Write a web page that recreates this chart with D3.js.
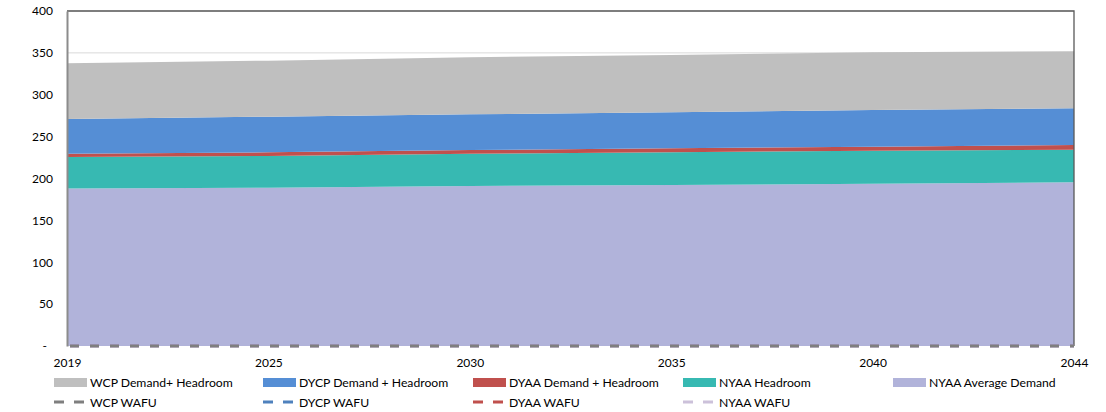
<!DOCTYPE html>
<html><head><meta charset="utf-8">
<script src="https://cdn.jsdelivr.net/npm/d3@7"></script>
<style>body{margin:0;background:#fff}svg{display:block}text{font-family:Lato,"Open Sans",sans-serif;fill:#000}</style>
</head><body><svg id="c" width="1106" height="412"></svg>
<script>
const years = ["2019","2025","2030","2035","2040","2044"];
const nyaaAverageDemand = [188, 189, 191, 192.2, 193.8, 195.5];
const nyaaHeadroom = [37.7, 38, 38.6, 39.1, 39.4, 38.9];
const dyaaDemandHeadroom = [3.9, 4.2, 4.4, 4.7, 4.8, 5.6];
const dycpDemandHeadroom = [41.4, 42.6, 42.6, 43, 43.8, 43.8];
const wcpDemandHeadroom = [66.5, 66.9, 68.1, 68.5, 68.8, 68.2];
const wcpWafu = [0,0,0,0,0,0];
const dycpWafu = [0,0,0,0,0,0];
const dyaaWafu = [0,0,0,0,0,0];
const nyaaWafu = [0,0,0,0,0,0];
const yTicks = [0,50,100,150,200,250,300,350,400];

const areaSeries = [
  {name:"NYAA Average Demand", vals:nyaaAverageDemand, color:"#b1b3da"},
  {name:"NYAA Headroom", vals:nyaaHeadroom, color:"#37b9b2"},
  {name:"DYAA Demand + Headroom", vals:dyaaDemandHeadroom, color:"#c0504d"},
  {name:"DYCP Demand + Headroom", vals:dycpDemandHeadroom, color:"#558ed5"},
  {name:"WCP Demand+ Headroom", vals:wcpDemandHeadroom, color:"#bfbfbf"}
];
const lineSeries = [
  {name:"NYAA WAFU", vals:nyaaWafu, color:"#ccc1da"},
  {name:"DYAA WAFU", vals:dyaaWafu, color:"#c0504d"},
  {name:"DYCP WAFU", vals:dycpWafu, color:"#4f81bd"},
  {name:"WCP WAFU", vals:wcpWafu, color:"#7f7f7f"}
];

const svg = d3.select("#c");
const L=67, R=1074, T=11, B=346;
const x = d3.scalePoint().domain(years).range([L,R]);
const y = d3.scaleLinear().domain([0,400]).range([B,T]);

// gridlines
svg.append("g").selectAll("line").data(yTicks.filter(d=>d>0)).join("line")
  .attr("x1",L).attr("x2",R).attr("y1",d=>y(d)).attr("y2",d=>y(d))
  .attr("stroke","#d9d9d9").attr("stroke-width",1);

// stacked areas
const rows = years.map((yr,i)=>{const o={year:yr}; areaSeries.forEach(s=>o[s.name]=s.vals[i]); return o;});
const stack = d3.stack().keys(areaSeries.map(s=>s.name))(rows);
const area = d3.area().x(d=>x(d.data.year)).y0(d=>y(d[0])).y1(d=>y(d[1]));
svg.append("g").selectAll("path").data(stack).join("path")
  .attr("d",area).attr("fill",(d,i)=>areaSeries[i].color);

// border
svg.append("path").attr("d",`M${L},${T}H${R}V${B}`).attr("fill","none").attr("stroke","#595959").attr("stroke-width",1.3);

// y axis
const yAxis = d3.axisLeft(y).tickValues(yTicks).tickSize(0).tickPadding(14)
  .tickFormat(d=>d===0?"-":d);
const ga = svg.append("g").attr("transform",`translate(${L},0)`).call(yAxis);
ga.select(".domain").attr("stroke","#8c8c8c").attr("stroke-width",2);
ga.selectAll("text").attr("font-size",12).style("font-family","Lato,sans-serif");
ga.selectAll(".tick").filter(d=>d===0).select("text").attr("dx",-6);

// WAFU lines (all at zero, WCP drawn last on top)
const line = d3.line().x((d,i)=>x(years[i])).y(d=>y(d));
lineSeries.forEach((s)=>{
  svg.append("path").attr("d",line(s.vals)).attr("fill","none").attr("stroke",s.color)
    .attr("stroke-width",2.5).attr("stroke-dasharray","9,11").attr("stroke-dashoffset",-3);
});

// x axis
const xAxis = d3.axisBottom(x).tickSize(0).tickPadding(12);
const gx = svg.append("g").attr("transform",`translate(0,${B})`).call(xAxis);
gx.select(".domain").remove();
gx.selectAll("text").attr("font-size",12).style("font-family","Lato,sans-serif");

// legend
const cols = [54,263,473,683,893];
const leg1 = ["WCP Demand+ Headroom","DYCP Demand + Headroom","DYAA Demand + Headroom","NYAA Headroom","NYAA Average Demand"];
const legAreaColors = leg1.map(n=>areaSeries.find(s=>s.name===n).color);
const lg = svg.append("g");
leg1.forEach((n,i)=>{
  lg.append("rect").attr("x",cols[i]).attr("y",378).attr("width",33).attr("height",9).attr("fill",legAreaColors[i]);
  lg.append("text").attr("x",cols[i]+36).attr("y",387).attr("font-size",12.2).text(n);
});
const leg2 = ["WCP WAFU","DYCP WAFU","DYAA WAFU","NYAA WAFU"];
leg2.forEach((n,i)=>{
  const s = lineSeries.find(s=>s.name===n);
  lg.append("line").attr("x1",cols[i]).attr("x2",cols[i]+31).attr("y1",402).attr("y2",402)
    .attr("stroke",s.color).attr("stroke-width",3).attr("stroke-dasharray","10,10");
  lg.append("text").attr("x",cols[i]+36).attr("y",407).attr("font-size",12.2).text(n);
});
</script></body></html>
